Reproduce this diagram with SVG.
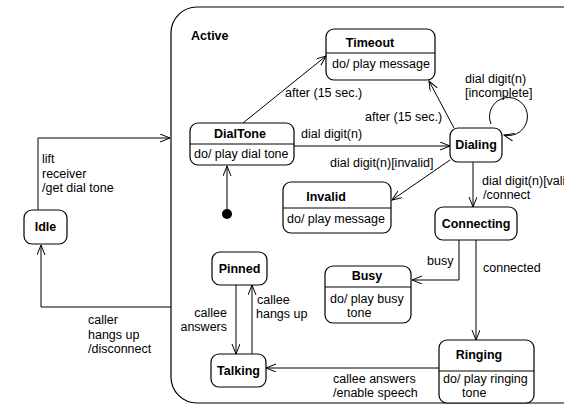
<svg xmlns="http://www.w3.org/2000/svg" width="564" height="406" viewBox="0 0 564 406">
<defs>
<marker id="arr" markerWidth="12" markerHeight="10" refX="10" refY="4" orient="auto" markerUnits="userSpaceOnUse">
<path d="M0,0 L10,4 L0,8" fill="none" stroke="#000" stroke-width="1"/>
</marker>
<style>
.n{fill:#fff;stroke:#000;stroke-width:1.2}
.t{font-family:"Liberation Sans",Arial,sans-serif;font-size:12.5px;font-weight:bold;fill:#000}
.l{font-family:"Liberation Sans",Arial,sans-serif;font-size:12.5px;fill:#000}
.c{fill:none;stroke:#000;stroke-width:1;marker-end:url(#arr)}
.d{stroke:#000;stroke-width:1}
</style>
</defs>
<rect width="564" height="406" fill="#fff"/>
<g id="Active">
<rect x="171" y="7" width="520" height="396" rx="26" fill="none" stroke="#000" stroke-width="1.2"/>
<text class="t" x="191" y="40">Active</text>
</g>
<g id="Idle">
<rect class="n" x="24" y="210" width="43" height="34" rx="8"/>
<text class="t" x="45.500" y="231" text-anchor="middle">Idle</text>
</g>
<g id="DialTone">
<rect class="n" x="190" y="123" width="104" height="42" rx="8"/>
<line class="d" x1="190" y1="144" x2="294" y2="144"/>
<text class="t" x="240" y="138" text-anchor="middle">DialTone</text>
<text class="l" x="194" y="158">do/ play dial tone</text>
</g>
<g id="Initial">
<circle cx="227" cy="214" r="5" fill="#000"/>
</g>
<g id="Timeout">
<rect class="n" x="326" y="29" width="109" height="51" rx="8"/>
<line class="d" x1="326" y1="53" x2="435" y2="53"/>
<text class="t" x="370" y="47" text-anchor="middle">Timeout</text>
<text class="l" x="332" y="68">do/ play message</text>
</g>
<g id="Dialing">
<rect class="n" x="450" y="128" width="52" height="34" rx="8"/>
<text class="t" x="476" y="149" text-anchor="middle">Dialing</text>
</g>
<g id="Invalid">
<rect class="n" x="283" y="182" width="108" height="51" rx="8"/>
<line class="d" x1="283" y1="208" x2="391" y2="208"/>
<text class="t" x="326" y="201" text-anchor="middle">Invalid</text>
<text class="l" x="287" y="223">do/ play message</text>
</g>
<g id="Connecting">
<rect class="n" x="435" y="207" width="82" height="33" rx="8"/>
<text class="t" x="476" y="228" text-anchor="middle">Connecting</text>
</g>
<g id="Busy">
<rect class="n" x="325" y="266" width="86" height="57" rx="8"/>
<line class="d" x1="325" y1="287" x2="411" y2="287"/>
<text class="t" x="367" y="280" text-anchor="middle">Busy</text>
<text class="l" x="330" y="303">do/ play busy</text>
<text class="l" x="347" y="317">tone</text>
</g>
<g id="Ringing">
<rect class="n" x="439" y="340" width="95" height="63" rx="8"/>
<line class="d" x1="439" y1="371" x2="534" y2="371"/>
<text class="t" x="479" y="359" text-anchor="middle">Ringing</text>
<text class="l" x="443" y="383">do/ play ringing</text>
<text class="l" x="462" y="397">tone</text>
</g>
<g id="Pinned">
<rect class="n" x="212" y="252" width="55" height="33" rx="8"/>
<text class="t" x="239.500" y="273" text-anchor="middle">Pinned</text>
</g>
<g id="Talking">
<rect class="n" x="211" y="354" width="55" height="33" rx="8"/>
<text class="t" x="238.500" y="375" text-anchor="middle">Talking</text>
</g>
<g id="connectors">
<path class="c" d="M38,210 V138 H170"/>
<path class="c" d="M171,307 H41 V245"/>
<path class="c" d="M227,209 V166"/>
<path class="c" d="M243,123 L326,56"/>
<path class="c" d="M294,146 H450"/>
<path class="c" d="M454,128 L429,81"/>
<path class="c" d="M491,124 A19,19 0 1,1 504,135"/>
<path class="c" d="M450,160 L392,200"/>
<path class="c" d="M473,162 V207"/>
<path class="c" d="M459,240 V280 H412"/>
<path class="c" d="M476,240 V340"/>
<path class="c" d="M439,368 H266"/>
<path class="c" d="M236,285 V354"/>
<path class="c" d="M252,354 V285"/>
</g>
<g id="labels">
<text class="l" x="42" y="163">lift</text>
<text class="l" x="42" y="178">receiver</text>
<text class="l" x="42" y="192">/get dial tone</text>
<text class="l" x="88" y="324">caller</text>
<text class="l" x="88" y="339">hangs up</text>
<text class="l" x="88" y="353">/disconnect</text>
<text class="l" x="285" y="97">after (15 sec.)</text>
<text class="l" x="365" y="121">after (15 sec.)</text>
<text class="l" x="301" y="138">dial digit(n)</text>
<text class="l" x="330" y="167">dial digit(n)[invalid]</text>
<text class="l" x="465" y="83">dial digit(n)</text>
<text class="l" x="465" y="97">[incomplete]</text>
<text class="l" x="482" y="185">dial digit(n)[vali</text>
<text class="l" x="483" y="199">/connect</text>
<text class="l" x="427" y="265">busy</text>
<text class="l" x="483" y="272">connected</text>
<text class="l" x="333" y="383">callee answers</text>
<text class="l" x="333" y="397">/enable speech</text>
<text class="l" x="227" y="317" text-anchor="end">callee</text>
<text class="l" x="227" y="331" text-anchor="end">answers</text>
<text class="l" x="257" y="304">callee</text>
<text class="l" x="256" y="318">hangs up</text>
</g>
</svg>
